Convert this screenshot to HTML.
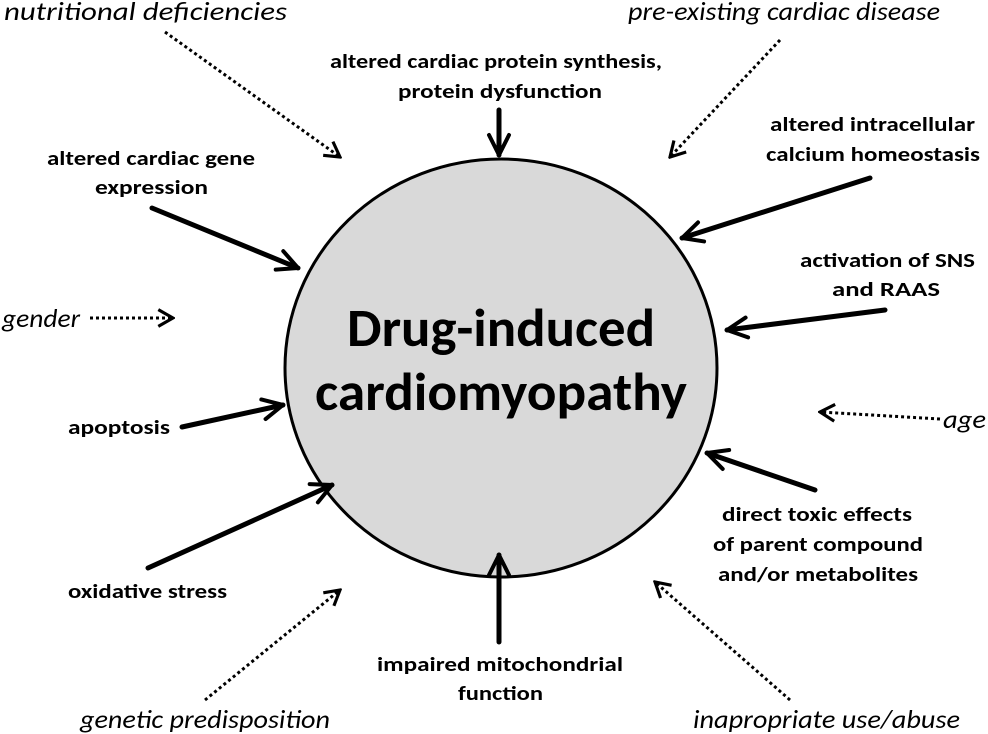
<html><body style="margin:0;background:#fff">
<svg width="988" height="734" xmlns="http://www.w3.org/2000/svg" font-family="Carlito, 'Liberation Sans', sans-serif">
<defs>
<marker id="a" viewBox="0 0 10 10" refX="9" refY="5" markerWidth="5" markerHeight="5" orient="auto" markerUnits="strokeWidth"><path d="M1,1 L9,5 L1,9" fill="none" stroke="#000" stroke-width="1.6" stroke-linecap="round" stroke-linejoin="round"/></marker>
<marker id="d" viewBox="0 0 10 10" refX="9" refY="5" markerWidth="7" markerHeight="7" orient="auto" markerUnits="strokeWidth"><path d="M2,1 L9,5 L2,9" fill="none" stroke="#000" stroke-width="1.5"/></marker>
</defs>
<ellipse cx="501" cy="368" rx="216" ry="209" fill="#d9d9d9" stroke="#000" stroke-width="3"/>
<g font-size="54" font-weight="bold">
<text x="347" y="346" textLength="308" lengthAdjust="spacingAndGlyphs">Drug-induced</text>
<text x="315" y="410" textLength="372" lengthAdjust="spacingAndGlyphs">cardiomyopathy</text>
</g>
<g stroke="#000" stroke-width="5" fill="none" marker-end="url(#a)" stroke-linecap="round">
<line x1="499" y1="110" x2="499" y2="155"/>
<line x1="870" y1="178" x2="682" y2="238"/>
<line x1="885" y1="310" x2="727" y2="330"/>
<line x1="815" y1="490" x2="707" y2="453"/>
<line x1="499" y1="642" x2="499" y2="555"/>
<line x1="148" y1="568" x2="332" y2="485"/>
<line x1="182" y1="427" x2="283" y2="405"/>
<line x1="152" y1="208" x2="298" y2="268"/>
</g>
<g stroke="#000" stroke-width="3" stroke-dasharray="3,3" fill="none" marker-end="url(#d)">
<line x1="165" y1="32" x2="340" y2="157"/>
<line x1="780" y1="40" x2="670" y2="157"/>
<line x1="90" y1="318" x2="173" y2="318"/>
<line x1="940" y1="419" x2="820" y2="412"/>
<line x1="205" y1="700" x2="340" y2="590"/>
<line x1="790" y1="700" x2="655" y2="582"/>
</g>
<g font-size="20" font-weight="bold">
<text x="330" y="68" textLength="332" lengthAdjust="spacingAndGlyphs">altered cardiac protein synthesis,</text>
<text x="398" y="98" textLength="204" lengthAdjust="spacingAndGlyphs">protein dysfunction</text>
<text x="47" y="165" textLength="208" lengthAdjust="spacingAndGlyphs">altered cardiac gene</text>
<text x="95" y="194" textLength="113" lengthAdjust="spacingAndGlyphs">expression</text>
<text x="770" y="131" textLength="205" lengthAdjust="spacingAndGlyphs">altered intracellular</text>
<text x="766" y="161" textLength="214" lengthAdjust="spacingAndGlyphs">calcium homeostasis</text>
<text x="800" y="267" textLength="175" lengthAdjust="spacingAndGlyphs">activation of SNS</text>
<text x="832" y="296" textLength="108" lengthAdjust="spacingAndGlyphs">and RAAS</text>
<text x="68" y="434" textLength="102" lengthAdjust="spacingAndGlyphs">apoptosis</text>
<text x="68" y="598" textLength="159" lengthAdjust="spacingAndGlyphs">oxidative stress</text>
<text x="722" y="521" textLength="190" lengthAdjust="spacingAndGlyphs">direct toxic effects</text>
<text x="713" y="551" textLength="210" lengthAdjust="spacingAndGlyphs">of parent compound</text>
<text x="718" y="581" textLength="200" lengthAdjust="spacingAndGlyphs">and/or metabolites</text>
<text x="377" y="671" textLength="246" lengthAdjust="spacingAndGlyphs">impaired mitochondrial</text>
<text x="458" y="700" textLength="85" lengthAdjust="spacingAndGlyphs">function</text>
</g>
<g font-size="26" font-style="italic">
<text x="4" y="20" textLength="283" lengthAdjust="spacingAndGlyphs">nutritional deficiencies</text>
<text x="628" y="20" textLength="312" lengthAdjust="spacingAndGlyphs">pre-existing cardiac disease</text>
<text x="2" y="327" textLength="78" lengthAdjust="spacingAndGlyphs">gender</text>
<text x="943" y="428" textLength="43" lengthAdjust="spacingAndGlyphs">age</text>
<text x="80" y="728" textLength="250" lengthAdjust="spacingAndGlyphs">genetic predisposition</text>
<text x="693" y="728" textLength="267" lengthAdjust="spacingAndGlyphs">inapropriate use/abuse</text>
</g>
</svg>
</body></html>
